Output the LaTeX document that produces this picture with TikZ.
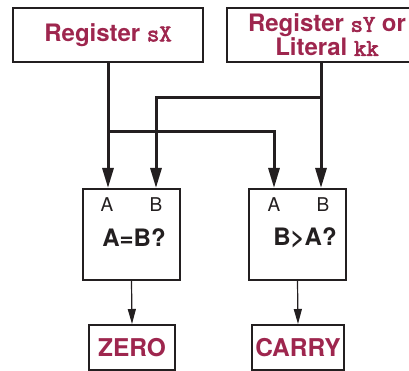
\documentclass[tikz,border=0pt]{standalone}
\usepackage{fontspec}
\setmainfont{TeX Gyre Heros}
\newfontfamily\regtt[FakeBold=3]{Latin Modern Mono}
\usetikzlibrary{arrows.meta}
\definecolor{regred}{RGB}{158,38,78}
\definecolor{ink}{RGB}{35,31,32}
\begin{document}
\begin{tikzpicture}[x=1pt,y=-1pt,
  src/.style={draw=ink,line width=2.2pt,fill=white,minimum width=190pt,minimum height=54pt,inner sep=0pt,text=regred,font=\fontsize{24}{21}\selectfont\bfseries,align=center},
  cmp/.style={draw=ink,line width=2pt,minimum width=97pt,minimum height=91pt,inner sep=0pt},
  flag/.style={draw=ink,line width=2pt,minimum height=45pt,inner sep=0pt,text=regred,font=\fontsize{24.5}{24}\selectfont\bfseries},
  bus/.style={ink,line width=3pt,-{Triangle[length=20pt,width=11pt]}},
  lnk/.style={ink,line width=1.2pt,-{Triangle[length=15pt,width=8pt]}},
  pin/.style={text=ink,inner sep=0pt,font=\fontsize{19}{19}\selectfont},
  op/.style={text=ink,inner sep=0pt,font=\fontsize{24}{24}\selectfont\bfseries}]
\useasboundingbox[fill=white] (0,0) rectangle (409,371);
%------------- sources
\node[src] (regx) at (108,35) {Register {\regtt sX}};
\node[src,minimum width=200pt] (regy) at (327,35) {Register {\regtt sY} or\\Literal {\regtt kk}};
%------------- comparators
\node[cmp] (cmpeq) at (131.5,234.5) {};
\node[pin] (eqApin) at (107,205) {A}; \node[pin] (eqBpin) at (156,205) {B};
\node[op] (eqop) at (134,238) {A=B?};
\node[cmp] (cmpgt) at (297.5,234.5) {};
\node[pin] (gtApin) at (274,205) {A}; \node[pin] (gtBpin) at (323,205) {B};
\node[op] (gtop) at (305,238) {B>A?};
%------------- flags
\node[flag,minimum width=86pt] (zero) at (132,347.5) {ZERO};
\node[flag,minimum width=92pt] (carry) at (298,347.5) {CARRY};
%------------- buses
\coordinate (ytap) at ([xshift=-6pt]regy.south);
\coordinate (jx) at (108,132);
\coordinate (jy) at (321,98);
\coordinate (eqB) at ([xshift=-25pt]cmpeq.north east);
\coordinate (gtA) at ([xshift=26pt]cmpgt.north west);
\draw[bus] (regx.south) -- (regx.south |- cmpeq.north);
\draw[bus] (ytap) -- (ytap |- cmpgt.north);
\draw[bus] (jy) -| (eqB);
\draw[bus] (jx) -| (gtA);
\draw[lnk] (cmpeq.south) -- (zero.north);
\draw[lnk] (cmpgt.south) -- (carry.north);
\end{tikzpicture}
\end{document}
